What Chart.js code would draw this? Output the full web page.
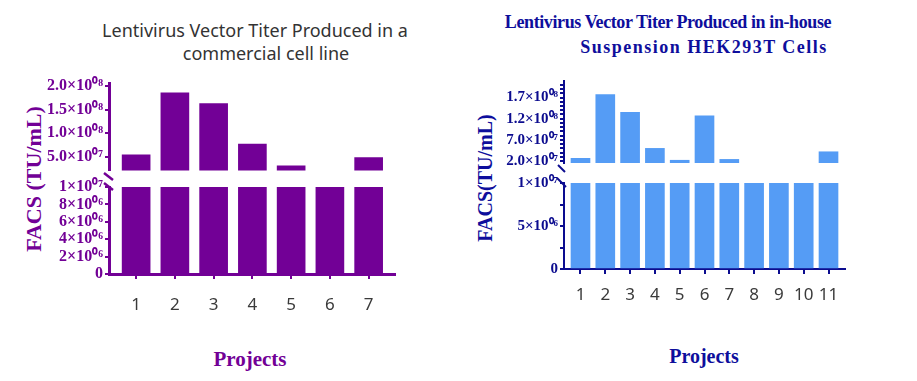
<!DOCTYPE html>
<html lang="en">
<head>
  <meta charset="UTF-8">
  <title>Lentivirus Vector Titer</title>
  <script src="https://cdn.jsdelivr.net/npm/chart.js"></script>
  <style>
    body { margin: 0; background: #fff; }
    #wrap { position: relative; width: 917px; height: 381px; background: #fff; overflow: hidden; }
    canvas { position: absolute; }
    .t { position: absolute; white-space: nowrap; transform: translate(-50%, -50%); }
    .sans { font-family: "Noto Sans", sans-serif; color: #333; font-size: 18px; }
    .serif { font-family: "Liberation Serif", "Times New Roman", serif; font-weight: bold; }
    .rot { transform: translate(-50%, -50%) rotate(-90deg); }
  </style>
</head>
<body>
<div id="wrap">
  <div class="t sans" style="left:255px;top:30px">Lentivirus Vector Titer Produced in a</div>
  <div class="t sans" style="left:266px;top:53px">commercial cell line</div>
  <div class="t serif rot" style="left:34px;top:179px;font-size:22px;color:#720096">FACS (TU/mL)</div>
  <div class="t serif" style="left:250px;top:359px;font-size:21px;color:#720096">Projects</div>

  <div class="t serif" style="left:668px;top:22px;font-size:18px;letter-spacing:-0.4px;color:#0e0e9c">Lentivirus Vector Titer Produced in in-house</div>
  <div class="t serif" style="left:704px;top:47px;font-size:18px;letter-spacing:1.5px;color:#0e0e9c">Suspension HEK293T Cells</div>
  <div class="t serif rot" style="left:485px;top:178px;font-size:20px;color:#0e0e9c">FACS(TU/mL)</div>
  <div class="t serif" style="left:704px;top:356px;font-size:20px;color:#0e0e9c">Projects</div>

  <canvas id="l1" width="400" height="110" style="left:0;top:72px"></canvas>
  <canvas id="l2" width="400" height="153" style="left:0;top:167px"></canvas>
  <canvas id="r1" width="390" height="104" style="left:460px;top:70px"></canvas>
  <canvas id="r2" width="390" height="152" style="left:460px;top:163px"></canvas>
</div>
<script>
  // left panel: commercial cell line
  const leftProjects = ['1', '2', '3', '4', '5', '6', '7'];
  const leftTiter = [5.4e7, 1.86e8, 1.63e8, 7.7e7, 3.05e7, 1.8e7, 4.8e7];
  const leftUpperTicks = [5e7, 1e8, 1.5e8, 2e8];
  const leftUpperLabels = ['5.0×10⁰⁷', '1.0×10⁰⁸', '1.5×10⁰⁸', '2.0×10⁰⁸'];
  const leftLowerTicks = [0, 2e6, 4e6, 6e6, 8e6, 1e7];
  const leftLowerLabels = ['0', '2×10⁰⁶', '4×10⁰⁶', '6×10⁰⁶', '8×10⁰⁶', '1×10⁰⁷'];

  // right panel: in-house suspension HEK293T
  const rightProjects = ['1', '2', '3', '4', '5', '6', '7', '8', '9', '10', '11'];
  const rightTiter = [2.65e7, 1.77e8, 1.35e8, 5.0e7, 2.2e7, 1.27e8, 2.4e7, 1.2e7, 1.2e7, 1.2e7, 4.2e7];
  const rightUpperTicks = [2e7, 3e7, 4e7, 5e7, 6e7, 7e7, 8e7, 9e7, 1e8, 1.1e8, 1.2e8, 1.3e8, 1.4e8, 1.5e8, 1.6e8, 1.7e8, 1.8e8, 1.9e8, 2e8];
  const rightUpperLabels = ['2.0×10⁰⁷', '', '', '', '', '7.0×10⁰⁷', '', '', '', '', '1.2×10⁰⁸', '', '', '', '', '1.7×10⁰⁸', '', '', ''];
  const rightLowerTicks = [0, 2.5e6, 5e6, 7.5e6, 1e7];
  const rightLowerLabels = ['0', '', '5×10⁰⁶', '', '1×10⁰⁷'];

  const purple = '#720096';
  const navy = '#0c0c8f';
  const blue = '#559cf5';

  const breakMarks = {
    id: 'breakMarks',
    afterDraw(chart, args, opts) {
      if (!opts || !opts.lines) return;
      const ctx = chart.ctx, a = chart.chartArea;
      ctx.save();
      ctx.strokeStyle = opts.color;
      ctx.lineWidth = opts.width;
      opts.lines.forEach(l => {
        ctx.beginPath();
        ctx.moveTo(a.left + l[0], a.top + l[1]);
        ctx.lineTo(a.left + l[2], a.top + l[3]);
        ctx.stroke();
      });
      ctx.restore();
    }
  };

  // one segment of a broken y axis
  function segment(id, o) {
    const idx = o.labels.map((_, i) => i);
    const data = o.values.map((v, i) => ({ x: i, y: v <= o.yMin ? null : Math.min(v, o.yMax) }));
    return new Chart(document.getElementById(id), {
      type: 'bar',
      data: { datasets: [{ data: data, backgroundColor: o.barColor, barThickness: o.barW, clip: 0 }] },
      options: {
        responsive: false,
        animation: false,
        layout: { padding: o.pad },
        plugins: { legend: { display: false }, tooltip: { enabled: false }, breakMarks: o.marks || false },
        scales: {
          x: {
            type: 'linear', min: o.xMin, max: o.xMax, display: o.showX, offset: false,
            afterBuildTicks: s => { s.ticks = idx.map(v => ({ value: v })); },
            afterFit: s => { s.height = o.xHeight; },
            grid: { offset: false, drawOnChartArea: false, tickLength: 5, color: o.axis, lineWidth: 2 },
            border: { color: o.axis, width: o.bw },
            ticks: {
              autoSkip: false, maxRotation: 0, padding: o.xPad, color: '#3a3a3a',
              font: { family: '"Noto Sans", sans-serif', size: 17 },
              callback: (v, i) => o.labels[i]
            }
          },
          y: {
            min: o.yMin, max: o.yMax,
            afterBuildTicks: s => { s.ticks = o.yTicks.map(v => ({ value: v })); },
            afterFit: s => { s.width = o.yWidth; },
            grid: { drawOnChartArea: false, tickLength: o.tl, color: o.axis, lineWidth: 2 },
            border: { color: o.axis, width: o.bw },
            ticks: {
              autoSkip: false, padding: 2, color: o.axis,
              font: { family: '"Liberation Serif", "Times New Roman", serif', size: o.fs, weight: 'bold' },
              callback: (v, i) => o.yLabels[i]
            }
          }
        }
      },
      plugins: [breakMarks]
    });
  }

  const leftBase = { labels: leftProjects, values: leftTiter, barColor: purple, barW: 28, axis: purple, bw: 3,
    xMin: -0.7, xMax: 6.68, yWidth: 109, tl: 4, xPad: 16, fs: 16 };
  const rightBase = { labels: rightProjects, values: rightTiter, barColor: blue, barW: 19, axis: navy, bw: 2,
    xMin: -0.665, xMax: 10.665, yWidth: 104, tl: 4, xPad: 11, fs: 15 };

  segment('l1', Object.assign({}, leftBase, {
    showX: false, xHeight: 0, pad: { top: 10, bottom: 5, left: 0, right: 5 },
    yMin: 2.08e7, yMax: 2.056e8, yTicks: leftUpperTicks, yLabels: leftUpperLabels
  }));
  segment('l2', Object.assign({}, leftBase, {
    showX: true, xHeight: 46, pad: { top: 20, bottom: 0, left: 0, right: 5 },
    yMin: 0, yMax: 1e7, yTicks: leftLowerTicks, yLabels: leftLowerLabels,
    marks: { color: purple, width: 2.5, lines: [[-5, -14, 4, -7], [-5, -4, 4, 3]] }
  }));
  segment('r1', Object.assign({}, rightBase, {
    showX: false, xHeight: 0, pad: { top: 10, bottom: 5, left: 0, right: 5 },
    yMin: 1.55e7, yMax: 2.09e8, yTicks: rightUpperTicks, yLabels: rightUpperLabels
  }));
  segment('r2', Object.assign({}, rightBase, {
    showX: true, xHeight: 46, pad: { top: 20, bottom: 0, left: 0, right: 5 },
    yMin: 0, yMax: 1e7, yTicks: rightLowerTicks, yLabels: rightLowerLabels,
    marks: { color: navy, width: 2, lines: [[-6, -18, 1, -11], [-7, -5, 2, 4]] }
  }));
</script>
</body>
</html>
